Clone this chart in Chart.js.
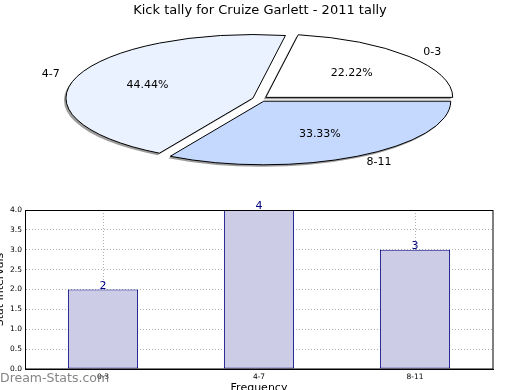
<!DOCTYPE html>
<html>
<head>
<meta charset="utf-8">
<script src="https://cdn.jsdelivr.net/npm/chart.js@4/dist/chart.umd.min.js"></script>
<style>
  html, body { margin:0; padding:0; background:#fff; overflow:hidden; width:520px; height:390px; }
  #pie { position:absolute; left:0; top:0; }
  #bar { position:absolute; left:-8px; top:195px; }
</style>
</head>
<body>
<canvas id="pie" width="520" height="195"></canvas>
<canvas id="bar" width="528" height="200"></canvas>
<script>
const TITLE = 'Kick tally for Cruize Garlett - 2011 tally';
const CATEGORIES = ['0-3', '4-7', '8-11'];
const COUNTS = [2, 4, 3];
const SLICE_COLORS = ['#FFFFFF', '#EBF2FF', '#C5D9FF'];
const Y_MIN = 0, Y_MAX = 4, Y_STEP = 0.5;
const X_TITLE = 'Frequency';
const Y_TITLE = 'Stat Intervals';
const WATERMARK = 'Dream-Stats.com';

const FONT = 'DejaVu Sans';
Chart.defaults.font.family = FONT;
Chart.defaults.color = '#000';

// pie geometry (ellipse projection)
const PIE_CX = 260, PIE_CY = 99, PIE_R = 187, PIE_K = 0.34, EXPLODE = 7.5;

const total = COUNTS.reduce((a, b) => a + b, 0);
const pieLabels = [...CATEGORIES].reverse();
const pieData = [...COUNTS].reverse();
const pieColors = [...SLICE_COLORS].reverse();

const squash = {
  id: 'squash',
  beforeDatasetsDraw(chart) {
    const ctx = chart.ctx;
    const meta = chart.getDatasetMeta(0);
    const c = meta.data[0];
    meta.data.forEach(a => {
      if (!a._wrapped) {
        const d = a.draw;
        a.draw = function (cx, area) {
          const m = (this.startAngle + this.endAngle) / 2;
          cx.save();
          cx.translate(Math.cos(m) * EXPLODE, Math.sin(m) * EXPLODE);
          d.call(this, cx, area);
          cx.restore();
        };
        a._wrapped = true;
      }
    });
    ctx.save();
    const base = ctx.getTransform();
    ctx.translate(PIE_CX, PIE_CY);
    ctx.scale(1, PIE_K);
    ctx.translate(-c.x, -c.y);
    ctx.shadowColor = 'rgba(60,60,60,0.5)';
    ctx.shadowOffsetX = -2;
    ctx.shadowOffsetY = 2;
    ctx.shadowBlur = 0;
    const orig = CanvasRenderingContext2D.prototype.stroke;
    ctx.stroke = function (...args) {
      this.save();
      this.setTransform(base);
      this.shadowColor = 'rgba(0,0,0,0)';
      orig.apply(this, args);
      this.restore();
    };
  },
  afterDatasetsDraw(chart) {
    const ctx = chart.ctx;
    delete ctx.stroke;
    ctx.restore();
    const meta = chart.getDatasetMeta(0);
    ctx.save();
    ctx.fillStyle = '#000';
    ctx.font = '11px "' + FONT + '"';
    ctx.textBaseline = 'middle';
    meta.data.forEach((a, i) => {
      const m = (a.startAngle + a.endAngle) / 2;
      const place = d => [PIE_CX + Math.cos(m) * (EXPLODE + d), PIE_CY + PIE_K * Math.sin(m) * (EXPLODE + d)];
      const [lx, ly] = place(1.1 * PIE_R);
      ctx.textAlign = Math.cos(m) >= 0 ? 'left' : 'right';
      ctx.fillText(pieLabels[i], lx, ly);
      const [px, py] = place(0.6 * PIE_R);
      ctx.textAlign = 'center';
      ctx.fillText((pieData[i] / total * 100).toFixed(2) + '%', px, py);
    });
    ctx.restore();
  }
};

new Chart(document.getElementById('pie'), {
  type: 'pie',
  data: {
    labels: pieLabels,
    datasets: [{
      data: pieData,
      backgroundColor: pieColors,
      borderColor: '#000',
      borderWidth: 1,
      offset: 0,
      clip: false
    }]
  },
  options: {
    responsive: false,
    animation: false,
    events: [],
    rotation: 90,
    radius: PIE_R,
    plugins: {
      legend: { display: false },
      tooltip: { enabled: false },
      title: { display: true, text: TITLE, color: '#000', font: { size: 13, weight: 'normal' }, padding: { top: 3, bottom: 0 } }
    }
  },
  plugins: [squash]
});

const barExtras = {
  id: 'barExtras',
  afterDatasetsDraw(chart) {
    const ctx = chart.ctx;
    const a = chart.chartArea;
    ctx.save();
    ctx.strokeStyle = '#000';
    ctx.lineWidth = 1;
    ctx.strokeRect(Math.round(a.left) + 0.5, Math.round(a.top) + 0.5, Math.round(a.right - a.left) - 1 + 0.5, Math.round(a.bottom - a.top) - 0.5);
    ctx.fillStyle = '#00007F';
    ctx.font = '11px "' + FONT + '"';
    ctx.textAlign = 'center';
    ctx.textBaseline = 'alphabetic';
    chart.getDatasetMeta(0).data.forEach((b, i) => {
      ctx.fillText(String(COUNTS[i]), b.x, b.y - 1);
    });
    ctx.restore();
  },
  afterDraw(chart) {
    const ctx = chart.ctx;
    ctx.save();
    ctx.fillStyle = 'rgba(110,110,110,0.85)';
    ctx.font = '12.5px "' + FONT + '"';
    ctx.textAlign = 'left';
    ctx.textBaseline = 'alphabetic';
    ctx.fillText(WATERMARK, 8, 187);
    ctx.restore();
  }
};

new Chart(document.getElementById('bar'), {
  type: 'bar',
  data: {
    labels: CATEGORIES,
    datasets: [{
      data: COUNTS,
      backgroundColor: '#CCCCE6',
      borderColor: '#00007F',
      borderWidth: 1,
      borderSkipped: false,
      barPercentage: 0.45,
      categoryPercentage: 1
    }]
  },
  options: {
    responsive: false,
    animation: false,
    events: [],
    layout: { padding: { top: 15, right: 27, left: 0, bottom: 0 } },
    plugins: { legend: { display: false }, tooltip: { enabled: false } },
    scales: {
      x: {
        grid: { offset: false, color: '#b0b0b0', drawTicks: false },
        border: { display: true, color: '#000', width: 1, dash: [1, 2] },
        ticks: { font: { size: 7.5 }, color: '#000', padding: 4, maxRotation: 0 },
        title: { display: true, text: X_TITLE, color: '#000', font: { size: 11 }, padding: 0 },
        afterFit(s) { s.height = 26; }
      },
      y: {
        min: Y_MIN, max: Y_MAX,
        grid: { color: '#b0b0b0', drawTicks: false },
        border: { display: true, color: '#000', width: 1, dash: [1, 2] },
        ticks: { stepSize: Y_STEP, font: { size: 7.5 }, color: '#000', padding: 3, callback: v => Number(v).toFixed(1) },
        title: { display: true, text: Y_TITLE, color: '#000', font: { size: 11 }, padding: { top: 2, bottom: 0 } },
        afterFit(s) { s.width = 33; }
      }
    }
  },
  plugins: [barExtras]
});
</script>
</body>
</html>
